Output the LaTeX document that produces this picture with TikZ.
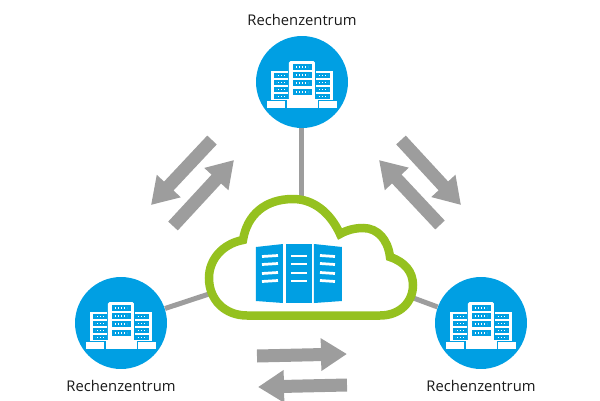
\documentclass[tikz,border=0pt]{standalone}
\usepackage{fontspec}
\setmainfont{Open Sans}
\usetikzlibrary{arrows.meta}
\definecolor{DcBlue}{RGB}{0,159,227}
\definecolor{CloudGreen}{RGB}{149,193,31}
\definecolor{LinkGrey}{RGB}{157,157,157}
\tikzset{
  dc/.style={circle,fill=DcBlue,minimum size=1.84cm,inner sep=0pt},
  dclabel/.style={font=\fontsize{8.4pt}{10pt}\selectfont,text=black!90,inner sep=0pt},
  link/.style={LinkGrey,line width=0.1cm},
  flow/.style={LinkGrey,line width=0.26cm,-{Triangle[width=0.62cm,length=0.52cm]}},
  dots/.style={white,line width=0.025cm,dash pattern=on 0.025cm off 0.035cm},
  pics/servers/.style={code={
    % side towers and plinths
    \foreach \s in {-1,1}{
      \fill[white] (\s*13,-11) rectangle (\s*31,18);
      \fill[white] (\s*17,19) rectangle (\s*35,26);
      \foreach \a/\b in {-9/-4,-2/3,5/10,12/17}{
        \fill[DcBlue] (\s*14,\a) rectangle (\s*28,\b);
        \draw[dots] (\s*17,\a/2+\b/2) -- (\s*26,\a/2+\b/2);
      }
    }
    % middle tower
    \fill[DcBlue] (-14,-22) rectangle (14,18);
    \fill[white,rounded corners=0.03cm] (-13,-21) rectangle (13,18);
    \fill[white] (-15,17) rectangle (16,26);
    \foreach \a/\b in {-18/-12,-10/-4,-2/4,7/13}{
      \fill[DcBlue] (-9,\a) rectangle (10,\b);
      \draw[dots] (-6,\a/2+\b/2) -- (6,\a/2+\b/2);
    }
  }}
}
\begin{document}
\begin{tikzpicture}[x=0.02cm,y=-0.02cm]
\useasboundingbox (0,0) rectangle (600,400);
\node[dc] (dctop) at (302,82) {};
\node[dc] (dcleft) at (121,323) {};
\node[dc] (dcright) at (481,323) {};
\node[dclabel] (labeltop) at (302,20) {Rechenzentrum};
\node[dclabel] (labelleft) at (121,386) {Rechenzentrum};
\node[dclabel] (labelright) at (481,386) {Rechenzentrum};
\coordinate (cloudtop) at (302,201);
\coordinate (cloudleft) at (212,293);
\coordinate (cloudright) at (408,296);
\draw[link] (dctop) -- (cloudtop);
\draw[link] (dcleft) -- (cloudleft);
\draw[link] (dcright) -- (cloudright);
% cloud outline
\draw[CloudGreen,line width=0.17cm,fill=white] (247,315.5) -- (380,315.5)
  .. controls (400,315.5) and (413,302) .. (413,285)
  .. controls (413,272) and (405,262) .. (390,257)
  .. controls (388,240) and (378,228) .. (363,228)
  .. controls (355,228) and (347,230) .. (340,234)
  .. controls (330,212) and (313,199) .. (293,199)
  .. controls (265,199) and (247,215) .. (243,240)
  .. controls (222,244) and (209,260) .. (209,278)
  .. controls (209,300) and (225,315.5) .. (247,315.5) -- cycle;
% rack in the cloud
\fill[DcBlue] (256,247) -- (283,244) -- (283,303) -- (256,301) -- cycle;
\fill[DcBlue] (286,244) rectangle (312,303);
\fill[DcBlue] (314,244) -- (342,247) -- (342,301) -- (314,303) -- cycle;
\foreach \y in {256,264,273,281}{
  \draw[white,line width=0.055cm] (262,\y+0.5) -- (278,\y-0.5);
  \draw[white,line width=0.055cm] (291,\y) -- (307,\y);
  \draw[white,line width=0.055cm] (320,\y-0.5) -- (335,\y+0.5);
}
\pic at (dctop) {servers};
\pic at (dcleft) {servers};
\pic at (dcright) {servers};
% exchange arrows
\coordinate (a1) at (212,140); \coordinate (b1) at (151,205);
\coordinate (a2) at (173,226); \coordinate (b2) at (234,160);
\coordinate (a3) at (401,140); \coordinate (b3) at (461,205);
\coordinate (a4) at (440,225); \coordinate (b4) at (379,160);
\coordinate (a5) at (257,356); \coordinate (b5) at (347,354);
\coordinate (a6) at (347,385); \coordinate (b6) at (258,387);
\foreach \i in {1,...,6}{
  \draw[flow] (a\i) -- (b\i);
}
\end{tikzpicture}
\end{document}
